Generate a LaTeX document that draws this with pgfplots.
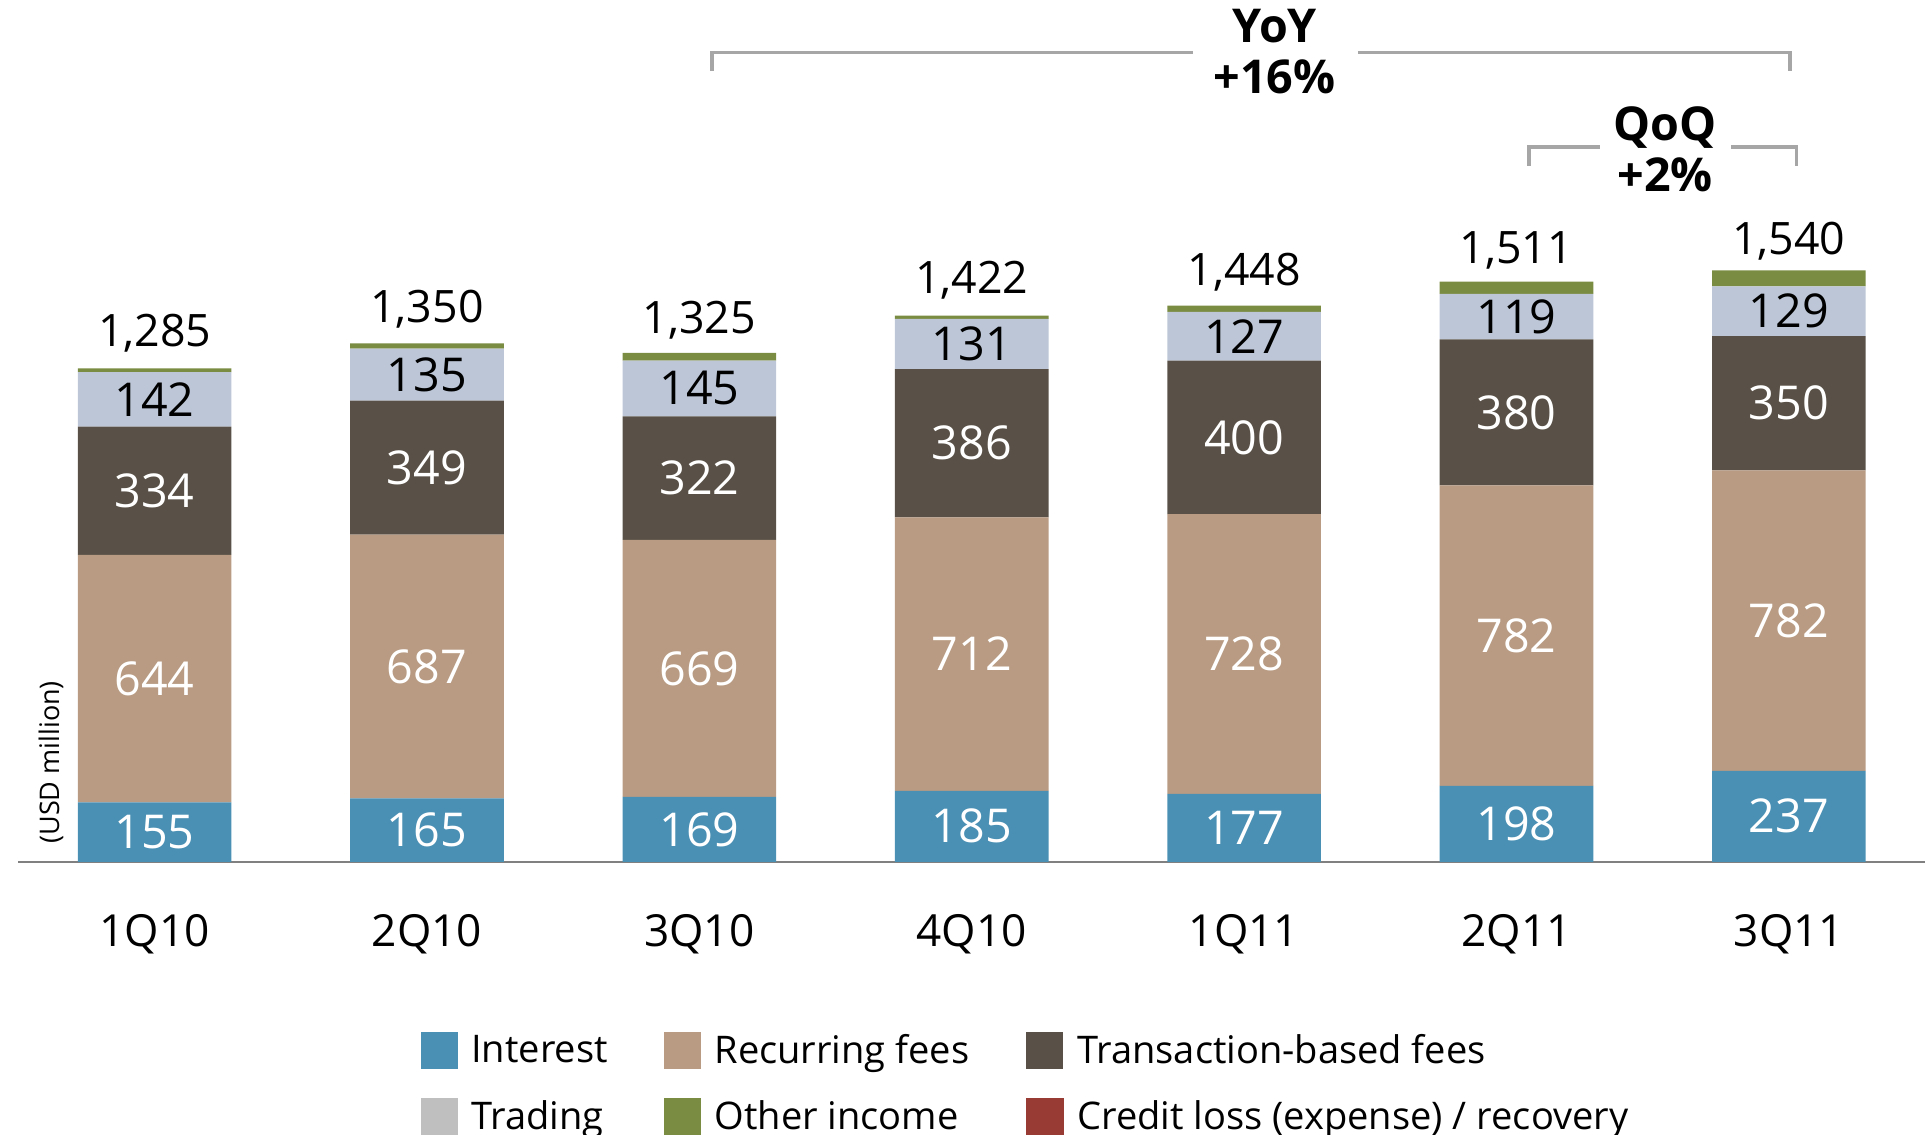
\documentclass[border=0pt]{standalone}
\usepackage{pgfplots}
\pgfplotsset{compat=1.18}
\usepackage{pgfplotstable}
\usepackage{fontspec}
\setmainfont{Open Sans}

\definecolor{cInt}{HTML}{4A90B4}
\definecolor{cRec}{HTML}{B89B82}
\definecolor{cTrx}{HTML}{595147}
\definecolor{cTrd}{HTML}{BCC6D6}
\definecolor{cTrdLeg}{HTML}{BFBFBF}
\definecolor{cOth}{HTML}{7A8C41}
\definecolor{cCrd}{HTML}{983B34}
\definecolor{axgray}{HTML}{808080}
\definecolor{brgray}{HTML}{A6A6A6}

% operating income by quarter, USD million
\pgfplotstableread{
x interest recurring trans trading other total
0 155 644 334 142 10 1285
1 165 687 349 135 14 1350
2 169 669 322 145 20 1325
3 185 712 386 131  8 1422
4 177 728 400 127 16 1448
5 198 782 380 119 32 1511
6 237 782 350 129 42 1540
}\data

\pgfplotsset{
  seglabel/.style={
    point meta=explicit symbolic,
    nodes near coords={\pgfplotspointmeta},
    every node near coord/.append style={anchor=center, text=#1,
      font=\fontsize{19}{22}\selectfont}
  },
  sq/.style={legend image code/.code={\fill[##1,draw=none] (0pt,-7.5pt) rectangle (15pt,7.5pt);}},
}

\begin{document}
\begin{tikzpicture}
\begin{axis}[
  at={(7.5pt,111pt)}, anchor=south west,
  width=776.5pt, height=351pt, scale only axis,
  ybar stacked, bar width=0.564,
  xmin=-0.5, xmax=6.5, ymin=0, ymax=2244,
  clip=false,
  axis x line*=bottom, axis y line=none,
  x axis line style={draw=axgray, line width=1pt},
  xtick={0,...,6},
  xticklabels={1Q10,2Q10,3Q10,4Q10,1Q11,2Q11,3Q11},
  major tick length=0pt,
  xticklabel style={font=\fontsize{18}{22}\selectfont, anchor=center, yshift=-29.5pt},
  /pgf/number format/assume math mode=true,
  legend columns=3,
  legend cell align=left,
  legend style={draw=none, fill=none, at={(0.207,-0.188)}, anchor=north west,
    font=\fontsize{15.5}{19}\selectfont, row sep=9.5pt,
    /tikz/every odd column/.append style={column sep=3.5pt},
    /tikz/every even column/.append style={column sep=21pt}},
]
\addplot[fill=cInt, draw=none, sq, seglabel=white] table[x=x, y=interest, meta=interest]{\data};
\addlegendentry{Interest}
\addplot[fill=cRec, draw=none, sq, seglabel=white] table[x=x, y=recurring, meta=recurring]{\data};
\addlegendentry{Recurring fees}
\addplot[fill=cTrx, draw=none, sq, seglabel=white] table[x=x, y=trans, meta=trans]{\data};
\addlegendentry{Transaction-based fees}
\addplot[fill=cTrd, draw=none, seglabel=black,
  legend image code/.code={\fill[cTrdLeg] (0pt,-7.5pt) rectangle (15pt,7.5pt);}] table[x=x, y=trading, meta=trading]{\data};
\addlegendentry{Trading}
\addplot[fill=cOth, draw=none, sq,
  point meta=explicit symbolic,
  nodes near coords={\pgfmathprintnumber[fixed, 1000 sep={,}]{\pgfplotspointmeta}},
  every node near coord/.append style={anchor=center, yshift=15pt, text=black,
    font=\fontsize{18.2}{22}\selectfont}] table[x=x, y=other, meta=total]{\data};
\addlegendentry{Other income}
\addlegendimage{legend image code/.code={\fill[cCrd] (0pt,-7.5pt) rectangle (15pt,7.5pt);}}
\addlegendentry{Credit loss (expense) / recovery}

% YoY bracket
\draw[brgray, line width=1.5pt] (axis cs:2.047,2059) -- (axis cs:2.047,2107) -- (axis cs:3.814,2107);
\draw[brgray, line width=1.5pt] (axis cs:4.418,2107) -- (axis cs:6.005,2107) -- (axis cs:6.005,2059);
\node[font=\bfseries\fontsize{19}{22}\selectfont, align=center] at (axis cs:4.112,2110) {YoY\\[-1pt]+16\%};
% QoQ bracket
\draw[brgray, line width=1.5pt] (axis cs:5.045,1813) -- (axis cs:5.045,1861) -- (axis cs:5.307,1861);
\draw[brgray, line width=1.5pt] (axis cs:5.789,1861) -- (axis cs:6.028,1861) -- (axis cs:6.028,1813);
\node[font=\bfseries\fontsize{19}{22}\selectfont, align=center] at (axis cs:5.546,1855) {QoQ\\[-1pt]+2\%};

\node[rotate=90, font=\fontsize{11}{13}\selectfont] at (axis cs:-0.38,259) {(USD million)};
\end{axis}
\pgfresetboundingbox
\useasboundingbox (0,0) rectangle (784pt,462pt);
\end{tikzpicture}
\end{document}
